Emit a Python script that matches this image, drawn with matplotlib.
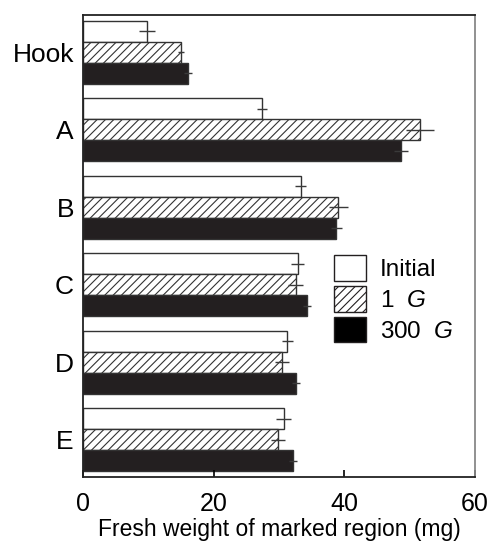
import numpy as np
import matplotlib
matplotlib.use('Agg')
import matplotlib.pyplot as plt
from matplotlib.patches import Patch

plt.rcParams['font.family'] = ['Liberation Sans', 'DejaVu Sans']
plt.rcParams['mathtext.fontset'] = 'custom'
plt.rcParams['mathtext.rm'] = 'Liberation Sans'
plt.rcParams['mathtext.it'] = 'Liberation Sans:italic'
plt.rcParams['hatch.linewidth'] = 0.8

# data (mg)
regions = ['Hook', 'A', 'B', 'C', 'D', 'E']
initial = [9.8, 27.4, 33.3, 32.9, 31.3, 30.7]
initial_err = [1.2, 0.7, 0.9, 1.0, 0.9, 1.15]
g1 = [15.0, 51.6, 39.1, 32.6, 30.5, 29.9]
g1_err = [0.5, 2.1, 1.45, 1.15, 1.1, 1.05]
g300 = [16.1, 48.7, 38.8, 34.3, 32.6, 32.2]
g300_err = [0.6, 1.1, 0.9, 0.6, 0.55, 0.6]

black = '#231f20'
edge = '#333333'
errc = '#3a3a3a'

fig = plt.figure(figsize=(4.89, 5.45), dpi=100)
ax = fig.add_axes([83/489, 1-477/545, 392/489, 462/545])

y = np.arange(len(regions))
h = 0.27
ax.barh(y - h, initial, height=h, color='white', edgecolor=edge, linewidth=1.0)
ax.barh(y, g1, height=h, color='white', edgecolor=edge, linewidth=1.0, hatch='////')
ax.barh(y + h, g300, height=h, color=black, edgecolor=edge, linewidth=1.0)

ax.errorbar(initial, y - h, xerr=initial_err, fmt='none', ecolor=errc, elinewidth=1.0, capsize=0)
ax.errorbar(g1, y, xerr=g1_err, fmt='none', ecolor=errc, elinewidth=1.0, capsize=0)
ax.errorbar(g300, y + h, xerr=g300_err, fmt='none', ecolor=errc, elinewidth=1.0, capsize=0)

ax.set_xlim(0, 60)
ax.set_ylim(5.48, -0.48)
ax.set_yticks(y)
ax.set_yticklabels(regions)
ax.set_xticks([0, 20, 40, 60])
ax.tick_params(axis='y', length=0, pad=6.5, labelsize=19)
ax.tick_params(axis='x', direction='in', length=5, width=1.2, pad=11, labelsize=18)
ax.set_xlabel('Fresh weight of marked region (mg)', fontsize=16.5, labelpad=1)

for s in ['left', 'bottom', 'top']:
    ax.spines[s].set_linewidth(1.3)
    ax.spines[s].set_color('#222222')
ax.spines['right'].set_color('#888888')
ax.spines['right'].set_linewidth(1.3)

handles = [Patch(facecolor='white', edgecolor=black, linewidth=1.0),
           Patch(facecolor='white', edgecolor=black, linewidth=1.0, hatch='////'),
           Patch(facecolor='black', edgecolor=black, linewidth=1.0)]
labels = ['Initial', r'1  $\mathit{G}$', r'300  $\mathit{G}$']
ax.legend(handles, labels, loc='upper left', bbox_to_anchor=(334/489, 1-255/545),
          bbox_transform=fig.transFigure, frameon=False, fontsize=17.5,
          handlelength=1.3, handleheight=1.25, labelspacing=0.2,
          handletextpad=0.6, borderpad=0, borderaxespad=0)

fig.savefig('out.png', dpi=100)
